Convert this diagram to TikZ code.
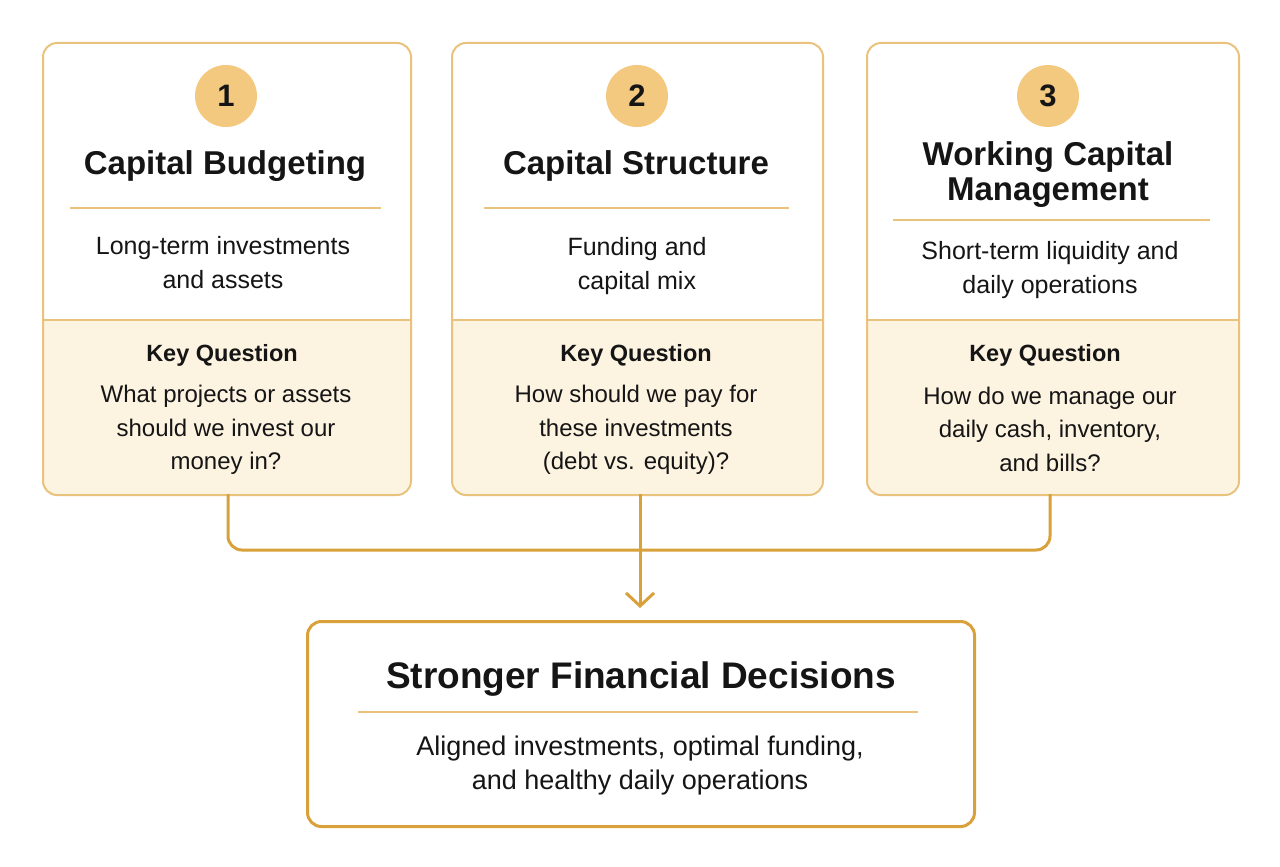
\documentclass[tikz,border=0pt]{standalone}
\usepackage{fontspec}
\setmainfont{Liberation Sans}
\usetikzlibrary{arrows.meta}
\definecolor{bord}{HTML}{E9C27C}
\definecolor{cream}{HTML}{FDF3E1}
\definecolor{circ}{HTML}{F3C97F}
\definecolor{gold}{HTML}{D9A13A}
\definecolor{ink}{HTML}{151515}
\tikzset{
  card/.style={draw=bord, line width=2pt, rounded corners=14pt},
  numc/.style={circle, fill=circ, minimum size=62pt, inner sep=0pt, font=\fontsize{31}{31}\selectfont\bfseries, text=ink},
  ttl/.style={font=\fontsize{33}{35}\selectfont\bfseries, text=ink, align=center},
  desc/.style={font=\fontsize{25}{34}\selectfont, text=ink, align=center},
  body/.style={font=\fontsize{24}{33.5}\selectfont, text=ink, align=center},
  kq/.style={font=\fontsize{23.5}{26}\selectfont\bfseries, text=ink},
  rule/.style={draw=bord, line width=1.8pt},
  conn/.style={draw=gold, line width=3pt, rounded corners=14pt},
}
\begin{document}
\begin{tikzpicture}[x=1pt,y=-1pt]
\useasboundingbox (0,0) rectangle (1280,867);
\fill[white] (0,0) rectangle (1280,867);
% cards
\foreach \L/\R/\n in {42/410/a,451/822/b,866/1238/c}{
  \begin{scope}
    \clip[rounded corners=14pt] (\L,42) rectangle (\R,494);
    \fill[cream] (\L,320) rectangle (\R,494);
  \end{scope}
  \draw[bord, line width=1.8pt] (\L,320) -- (\R,320);
  \node[card, minimum width=\R pt-\L pt, minimum height=452pt, anchor=north west, inner sep=0pt] (card\n) at (\L,42) {};
}
% numbers
\node[numc] (n1) at (226,96) {1};
\node[numc] (n2) at (637,96) {2};
\node[numc] (n3) at (1048,96) {3};
% titles
\node[ttl] (t1) at (225,166) {Capital Budgeting};
\node[ttl] (t2) at (636,166) {Capital Structure};
\node[ttl] (t3) at (1048,175) {Working Capital\\Management};
\draw[rule] (70,208) -- (381,208);
\draw[rule] (484,208) -- (789,208);
\draw[rule] (893,220) -- (1210,220);
% descriptions
\node[desc] (d1) at (223,263) {Long-term investments\\and assets};
\node[desc] (d2) at (637,266) {Funding and\\capital mix};
\node[desc] (d3) at (1050,270) {Short-term liquidity and\\daily operations};
% key questions
\node[kq] (k1) at (222,355) {Key Question};
\node[kq] (k2) at (636,355) {Key Question};
\node[kq] (k3) at (1045,355) {Key Question};
\node[body] (q1) at (226,430) {What projects or assets\\should we invest our\\money in?};
\node[body] (q2) at (636,430) {How should we pay for\\these investments\\(debt vs. equity)?};
\node[body] (q3) at (1050,429) {How do we manage our\\daily cash, inventory,\\and bills?};
% bottom box
\node[draw=gold, line width=3pt, rounded corners=14pt, minimum width=667pt, minimum height=205pt, anchor=north west, inner sep=0pt] (res) at (306,620) {};
\node[font=\fontsize{37}{40}\selectfont\bfseries, text=ink] (rt) at (641,679) {Stronger Financial Decisions};
\draw[rule] (358,712) -- (918,712);
\node[font=\fontsize{27}{34}\selectfont, text=ink, align=center] (rd) at (640,766) {Aligned investments, optimal funding,\\and healthy daily operations};
% connectors
\coordinate (c1) at (228,494);
\coordinate (c2) at (640,494);
\coordinate (c3) at (1050,494);
\coordinate (tip) at (640,608);
\draw[conn] (c1) -- (228,550) -- (1050,550) -- (c3);
\draw[draw=gold, line width=3pt, -{Straight Barb[length=13pt,width=28pt,line width=3pt]}] (c2) -- (tip);
\end{tikzpicture}
\end{document}
